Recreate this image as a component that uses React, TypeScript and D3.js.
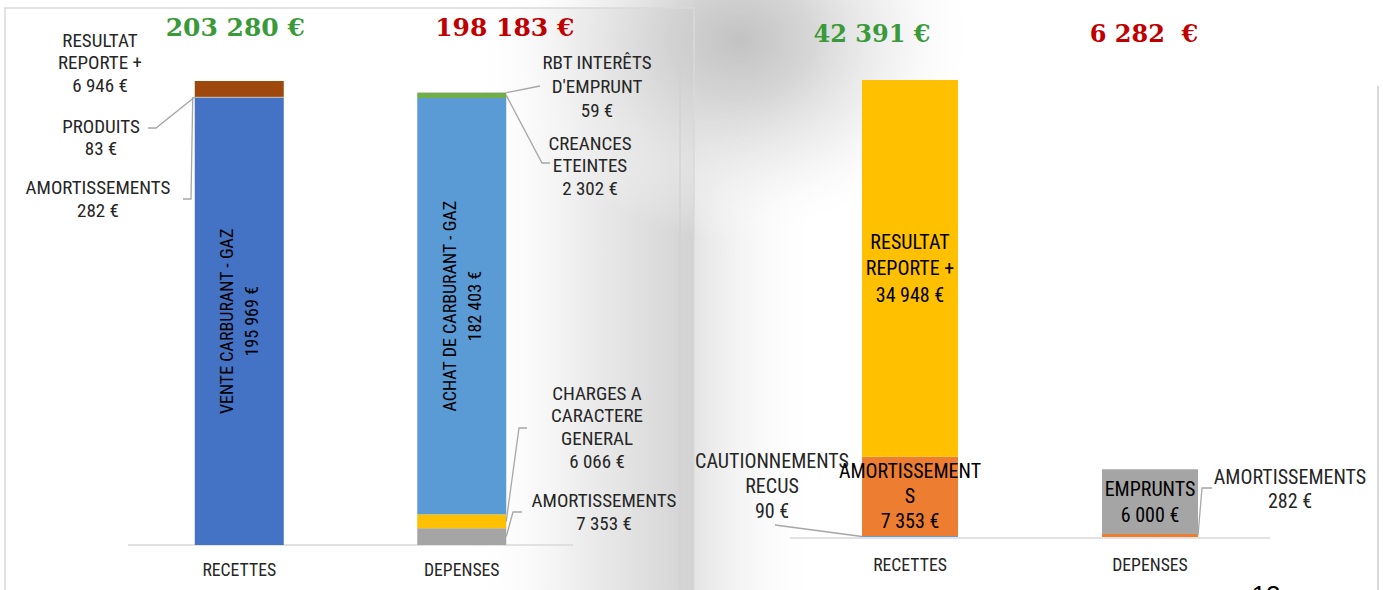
import React from "react";
import * as d3 from "d3";

const W = 1383;
const H = 590;

// ---------- data ----------
const categories = ["RECETTES", "DEPENSES"];

const leftRecettesNames = ["VENTE CARBURANT - GAZ", "AMORTISSEMENTS", "PRODUITS", "RESULTAT|REPORTE +"];
const leftRecettesValues = [195969, 282, 83, 6946];

const leftDepensesNames = [
  "AMORTISSEMENTS",
  "CHARGES A|CARACTERE|GENERAL",
  "ACHAT DE CARBURANT - GAZ",
  "CREANCES|ETEINTES",
  "RBT INTERÊTS|D'EMPRUNT",
];
const leftDepensesValues = [7353, 6066, 182403, 2302, 59];

const rightRecettesNames = ["CAUTIONNEMENTS|RECUS", "AMORTISSEMENT|S", "RESULTAT|REPORTE +"];
const rightRecettesValues = [90, 7353, 34948];

const rightDepensesNames = ["AMORTISSEMENTS", "EMPRUNTS"];
const rightDepensesValues = [282, 6000];

const totalLabels = ["203 280 €", "198 183 €", "42 391 €", "6 282  €"];
const pageNumber = "12";

// ---------- styles ----------
const leftRecColors = ["#4472c4", "#a5a5a5", "#ffc000", "#9e480e"];
const leftDepColors = ["#a5a5a5", "#ffc000", "#5b9bd5", "#70ad47", "#264478"];
const rightRecColors = ["#5b9bd5", "#ed7d31", "#ffc000"];
const rightDepColors = ["#ed7d31", "#a5a5a5"];

const NARROW = "'Liberation Sans Narrow', 'Arial Narrow', 'Roboto Condensed', sans-serif";
const SANS = "'Liberation Sans', Arial, sans-serif";
const SERIF = "'DejaVu Serif', Georgia, serif";

const loc = d3.formatLocale({ decimal: ",", thousands: " ", grouping: [3], currency: ["", " €"] });
const fmt = (v: number) => loc.format(",")(v) + " €";

type Lbl =
  | { kind: "none" }
  | { kind: "rot" }
  | { kind: "in"; lh: number }
  | { kind: "out"; cx: number; cy: number; lh: number; pts: [number, number][]; side: "l" | "r"; dx?: number };

const leftRecLabels: Lbl[] = [
  { kind: "rot" },
  { kind: "out", cx: 98, cy: 187, lh: 23, pts: [[183, 199], [191, 199]], side: "l", dx: -2 },
  { kind: "out", cx: 101, cy: 126, lh: 22, pts: [[148, 128], [156, 128]], side: "l" },
  { kind: "out", cx: 100, cy: 40, lh: 22.5, pts: [], side: "l" },
];
const leftDepLabels: Lbl[] = [
  { kind: "out", cx: 604, cy: 500, lh: 23, pts: [[522, 512], [513, 512]], side: "r" },
  { kind: "out", cx: 597, cy: 393, lh: 22.7, pts: [[527, 428], [519, 428]], side: "r" },
  { kind: "rot" },
  { kind: "out", cx: 590, cy: 143, lh: 22.5, pts: [[550, 163], [542, 163]], side: "r" },
  { kind: "out", cx: 597, cy: 62, lh: 24, pts: [[540, 86]], side: "r" },
];
const rightRecLabels: Lbl[] = [
  { kind: "out", cx: 772, cy: 461, lh: 25, pts: [[775, 525]], side: "l" },
  { kind: "in", lh: 25 },
  { kind: "in", lh: 26.5 },
];
const rightDepLabels: Lbl[] = [
  { kind: "out", cx: 1290, cy: 477, lh: 24, pts: [[1212, 488], [1202, 488]], side: "r" },
  { kind: "in", lh: 26 },
];

function Stack({
  x,
  y,
  cat,
  names,
  values,
  colors,
  labels,
  fontSize,
  rotSize,
}: {
  x: d3.ScaleBand<string>;
  y: d3.ScaleLinear<number, number>;
  cat: string;
  names: string[];
  values: number[];
  colors: string[];
  labels: Lbl[];
  fontSize: number;
  rotSize: number;
}) {
  const cum = Array.from(d3.cumsum(values));
  const x0 = x(cat)!;
  const bw = x.bandwidth();
  const cx = x0 + bw / 2;
  return (
    <g>
      {values.map((v, i) => {
        const top = y(cum[i]);
        const bot = y(cum[i] - v);
        return <rect key={"r" + i} x={x0} y={top} width={bw} height={Math.max(0, bot - top)} fill={colors[i]} />;
      })}
      {values.map((v, i) => {
        const top = y(cum[i]);
        const bot = y(cum[i] - v);
        const mid = (top + bot) / 2;
        const lb = labels[i];
        const lines = [...names[i].split("|"), fmt(v)];
        if (lb.kind === "rot") {
          return (
            <g key={"l" + i} transform={`translate(${cx},${mid}) rotate(-90)`} fontFamily={NARROW} fontSize={rotSize} fill="#000">
              <text x={0} y={-12.5} textAnchor="middle" dominantBaseline="central">{names[i]}</text>
              <text x={0} y={12.5} textAnchor="middle" dominantBaseline="central">{fmt(v)}</text>
            </g>
          );
        }
        if (lb.kind === "in") {
          const start = mid - ((lines.length - 1) / 2) * lb.lh;
          return (
            <g key={"l" + i} fontFamily={NARROW} fontSize={fontSize} fill="#000">
              {lines.map((t, k) => (
                <text key={k} x={cx} y={start + k * lb.lh} textAnchor="middle" dominantBaseline="central">{t}</text>
              ))}
            </g>
          );
        }
        if (lb.kind === "out") {
          const ax = (lb.side === "l" ? x0 : x0 + bw) + (lb.dx || 0);
          const pts = lb.pts.length ? [...lb.pts, [ax, mid] as [number, number]] : [];
          return (
            <g key={"l" + i}>
              {pts.length > 0 && (
                <path d={d3.line()(pts) || ""} fill="none" stroke="#a6a6a6" strokeWidth={1.3} />
              )}
              <g fontFamily={NARROW} fontSize={fontSize} fill="#262626">
                {lines.map((t, k) => (
                  <text key={k} x={lb.cx} y={lb.cy + k * lb.lh} textAnchor="middle" dominantBaseline="central">{t}</text>
                ))}
              </g>
            </g>
          );
        }
        return null;
      })}
    </g>
  );
}

export default function App() {
  const xL = d3.scaleBand<string>().domain(categories).range([128, 573]).paddingInner(0.6).paddingOuter(0.3);
  const yL = d3.scaleLinear().domain([0, d3.sum(leftRecettesValues)]).range([545, 81]);
  const xR = d3.scaleBand<string>().domain(categories).range([790, 1270]).paddingInner(0.6).paddingOuter(0.3);
  const yR = d3.scaleLinear().domain([0, d3.sum(rightRecettesValues)]).range([537, 80]);

  const titleX = [xL(categories[0])! + xL.bandwidth() / 2 - 4, xL(categories[1])! + xL.bandwidth() / 2 + 43, xR(categories[0])! + xR.bandwidth() / 2 - 38, xR(categories[1])! + xR.bandwidth() / 2 - 6];
  const titleY = [36, 36, 42, 42];
  const titleColors = ["#3a9a3a", "#c00000", "#3a9a3a", "#c00000"];
  const titleSize = [25, 25, 24, 24];

  return (
    <div style={{ position: "absolute", left: 0, top: 0, width: W, height: H, overflow: "hidden", background: "#fff" }}>
      <svg width={W} height={H} viewBox={`0 0 ${W} ${H}`} style={{ display: "block" }}>
        <defs>
          <radialGradient id="blob" cx="0.5" cy="0.5" r="0.5">
            <stop offset="0" stopColor="#c2c2c2" stopOpacity="1" />
            <stop offset="0.3" stopColor="#d2d2d2" stopOpacity="0.9" />
            <stop offset="0.65" stopColor="#eaeaea" stopOpacity="0.6" />
            <stop offset="1" stopColor="#ffffff" stopOpacity="0" />
          </radialGradient>
          <linearGradient id="shadeL" x1="470" y1="0" x2="694" y2="0" gradientUnits="userSpaceOnUse">
            <stop offset="0" stopColor="#ffffff" stopOpacity="0" />
            <stop offset="0.5" stopColor="#e8e8e8" stopOpacity="0.8" />
            <stop offset="1" stopColor="#d2d2d2" stopOpacity="1" />
          </linearGradient>
          <linearGradient id="shadeR" x1="694" y1="0" x2="820" y2="0" gradientUnits="userSpaceOnUse">
            <stop offset="0" stopColor="#e4e4e4" stopOpacity="1" />
            <stop offset="1" stopColor="#ffffff" stopOpacity="0" />
          </linearGradient>
        </defs>
        <rect x={0} y={0} width={W} height={H} fill="#fff" />
        <rect x={694} y={0} width={130} height={H} fill="url(#shadeR)" />
        <rect x={470} y={8} width={224} height={H} fill="url(#shadeL)" />
        <ellipse cx={740} cy={40} rx={240} ry={200} fill="url(#blob)" />

        {/* frames */}
        <path d={`M5,${H} V8 H694 V${H}`} fill="none" stroke="#d9d9d9" strokeWidth={1.5} />
        <path d={`M680,57 V${H}`} fill="none" stroke="#d0d0d0" strokeWidth={1.2} />
        <path d={`M1378,86 V${H}`} fill="none" stroke="#d9d9d9" strokeWidth={2} />

        {/* titles */}
        {totalLabels.map((t, i) => (
          <text key={i} x={titleX[i]} y={titleY[i]} textAnchor="middle" fontFamily={SERIF} fontWeight="bold" fontSize={titleSize[i]} fill={titleColors[i]} style={{ whiteSpace: "pre" }}>
            {t}
          </text>
        ))}

        {/* left chart */}
        <line x1={128} x2={573} y1={yL(0)} y2={yL(0)} stroke="#d9d9d9" strokeWidth={1.5} />
        <Stack x={xL} y={yL} cat={categories[0]} names={leftRecettesNames} values={leftRecettesValues} colors={leftRecColors} labels={leftRecLabels} fontSize={19} rotSize={18} />
        <Stack x={xL} y={yL} cat={categories[1]} names={leftDepensesNames} values={leftDepensesValues} colors={leftDepColors} labels={leftDepLabels} fontSize={19} rotSize={18} />
        {categories.map((c) => (
          <text key={c} x={xL(c)! + xL.bandwidth() / 2} y={570} textAnchor="middle" dominantBaseline="central" fontFamily={NARROW} fontSize={17.7} fill="#262626">{c}</text>
        ))}

        {/* right chart */}
        <line x1={790} x2={1270} y1={yR(0) + 1} y2={yR(0) + 1} stroke="#d9d9d9" strokeWidth={1.5} />
        <Stack x={xR} y={yR} cat={categories[0]} names={rightRecettesNames} values={rightRecettesValues} colors={rightRecColors} labels={rightRecLabels} fontSize={20} rotSize={18} />
        <Stack x={xR} y={yR} cat={categories[1]} names={rightDepensesNames} values={rightDepensesValues} colors={rightDepColors} labels={rightDepLabels} fontSize={20} rotSize={18} />
        {categories.map((c) => (
          <text key={c} x={xR(c)! + xR.bandwidth() / 2} y={565} textAnchor="middle" dominantBaseline="central" fontFamily={NARROW} fontSize={17.7} fill="#262626">{c}</text>
        ))}

        <text x={1266} y={604} textAnchor="middle" fontFamily={SANS} fontSize={26} fill="#000">{pageNumber}</text>
      </svg>
    </div>
  );
}
